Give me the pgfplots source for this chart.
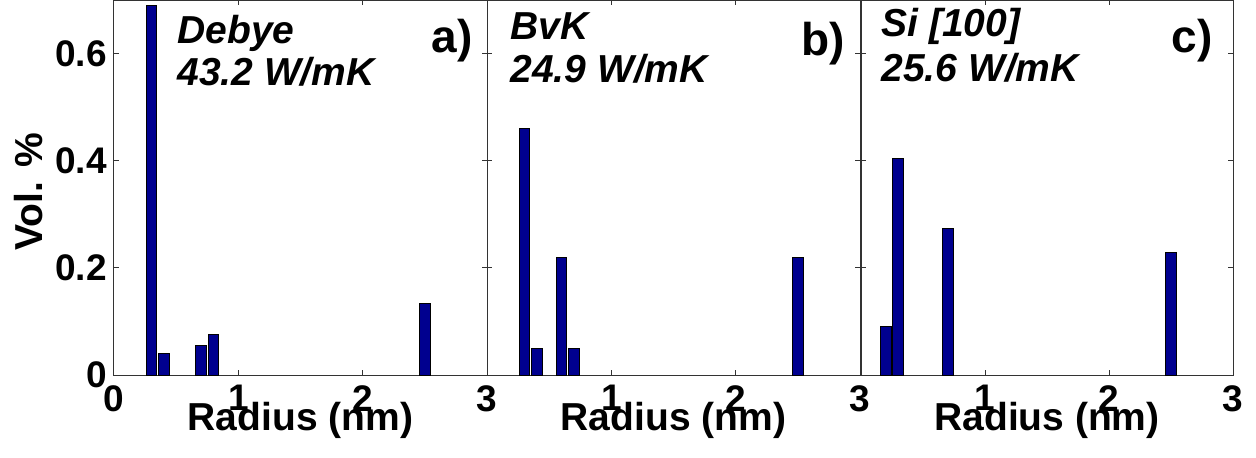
\documentclass[border=0pt]{standalone}
\usepackage{fontspec}
\setmainfont{Liberation Sans}
\usepackage{pgfplots}
\pgfplotsset{compat=1.18}
\definecolor{barblue}{RGB}{0,0,143}
\pgfplotsset{
  panel/.style={
    scale only axis, width=186.5pt, height=187.5pt,
    anchor=south west,
    xmin=0, xmax=3, ymin=0, ymax=0.7,
    xtick={0,1,2,3}, ytick={0,0.2,0.4,0.6},
    tick align=inside, major tick length=2.5pt,
    axis line style={black!80, line width=0.5pt},
    every tick/.style={black!80, line width=0.5pt},
    tick label style={font=\fontsize{18.5}{22}\selectfont\bfseries},
    /pgf/number format/assume math mode=true,
    x tick label style={anchor=north, inner sep=0pt, yshift=-5pt},
    y tick label style={anchor=east, inner sep=0pt, xshift=-3.5pt},
    xlabel={Radius (nm)},
    every axis x label/.style={at={(axis description cs:0.5,-0.1467)}, anchor=base, inner sep=0pt, font=\fontsize{19.5}{22}\selectfont\bfseries},
    bar width=0.085,
    clip=false,
  },
  barstyle/.style={ybar, bar shift=0pt, fill=barblue, draw=black, line width=0.5pt},
}
\tikzset{
  annot/.style={anchor=base west, inner sep=0pt, font=\fontsize{19.5}{22}\selectfont\bfseries\itshape},
  plabel/.style={anchor=base east, inner sep=0pt, font=\fontsize{23}{26}\selectfont\bfseries},
}
\begin{document}
\begin{tikzpicture}
\useasboundingbox (-57pt,-41pt) rectangle (571pt,187.5pt);
% panel a
\begin{axis}[panel, at={(0pt,0pt)},
  xticklabels={0,1,2,3}, yticklabels={0,0.2,0.4,0.6},
  ylabel={Vol. \%},
  every axis y label/.style={at={(axis description cs:-0.193,0.49)}, rotate=90, anchor=base, inner sep=0pt, font=\fontsize{19.5}{22}\selectfont\bfseries},
]
\addplot[barstyle] coordinates {(0.3,0.69) (0.4,0.04) (0.7,0.056) (0.8,0.076) (2.5,0.134)};
\node[annot] at (rel axis cs:0.169,0.885) {Debye};
\node[annot] at (rel axis cs:0.169,0.771) {43.2 W/mK};
\node[plabel] at (rel axis cs:0.962,0.861) {a)};
\end{axis}
% panel b
\begin{axis}[panel, at={(186.5pt,0pt)},
  xticklabels={,1,2,3}, yticklabels={},
]
\addplot[barstyle] coordinates {(0.3,0.46) (0.4,0.05) (0.6,0.22) (0.7,0.05) (2.5,0.22)};
\node[annot] at (rel axis cs:0.062,0.896) {BvK};
\node[annot] at (rel axis cs:0.062,0.779) {24.9 W/mK};
\node[plabel] at (rel axis cs:0.96,0.853) {b)};
\end{axis}
% panel c
\begin{axis}[panel, at={(373.5pt,0pt)}, width=186pt,
  xticklabels={,1,2,3}, yticklabels={},
]
\addplot[barstyle] coordinates {(0.2,0.09) (0.3,0.405) (0.7,0.274) (2.5,0.229)};
\node[annot] at (rel axis cs:0.054,0.904) {Si [100]};
\node[annot] at (rel axis cs:0.054,0.784) {25.6 W/mK};
\node[plabel] at (rel axis cs:0.946,0.861) {c)};
\end{axis}
\end{tikzpicture}
\end{document}
